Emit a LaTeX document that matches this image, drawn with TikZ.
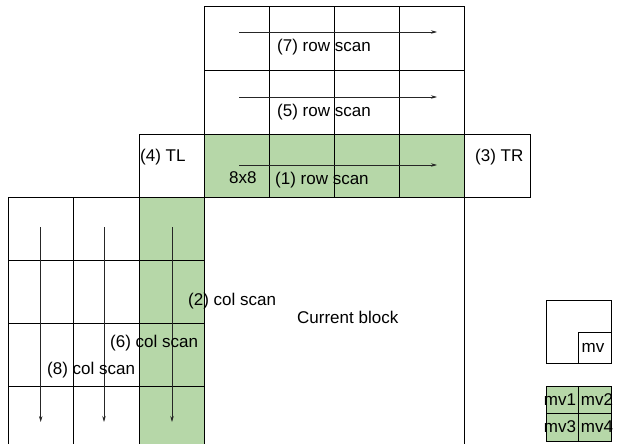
\documentclass[tikz,border=0pt]{standalone}
\usepackage{fontspec}
\setmainfont{Liberation Sans}
\usepackage{xcolor}
\usetikzlibrary{arrows.meta, positioning}
\definecolor{cellgreen}{HTML}{B6D7A8}

\begin{document}
\begin{tikzpicture}[x=1pt, y=-1pt,
  grid/.style={draw=black, line width=1pt},
  scanarr/.style={-{Stealth[length=6pt,width=3.5pt]}, line width=0.7pt, black!85},
  lbl/.style={font=\fontsize{17}{20}\selectfont, inner sep=0pt, anchor=west},
  mvlbl/.style={font=\fontsize{17}{20}\selectfont, inner sep=0pt}
]
\useasboundingbox (0,0) rectangle (619,444);
\begin{scope}
\clip (0,0) rectangle (619,444);
%% ROWS above the current block
\fill[cellgreen] (204,134) rectangle (464,197);
\draw[grid] (204,7) rectangle (464,197);
\draw[grid] (204,71) -- (464,71);
\draw[grid] (204,134) -- (464,134);
\draw[grid] (269,7) -- (269,197);
\draw[grid] (334,7) -- (334,197);
\draw[grid] (399,7) -- (399,197);
\draw[grid] (139,134) rectangle (204,197);
\draw[grid] (464,134) rectangle (530,197);
%% COLUMNS left of the current block
\fill[cellgreen] (139,197) rectangle (204,449);
\draw[grid] (8,197) rectangle (204,449);
\draw[grid] (8,260) -- (204,260);
\draw[grid] (8,323) -- (204,323);
\draw[grid] (8,386) -- (204,386);
\draw[grid] (73.5,197) -- (73.5,449);
\draw[grid] (139,197) -- (139,449);
%% current block
\draw[grid] (204,197) rectangle (464,449);
%% motion vectors
\draw[grid] (546,300) rectangle (611,363);
\draw[grid] (578,332) rectangle (611,363);
\fill[cellgreen] (546,386) rectangle (611,441);
\draw[grid] (546,386) rectangle (611,441);
\draw[grid] (578,386) -- (578,441);
\draw[grid] (546,413) -- (611,413);
\end{scope}

% scan directions
\coordinate (r7s) at (239,32);  \coordinate (r7e) at (437,32);
\coordinate (r5s) at (239,97);  \coordinate (r5e) at (437,97);
\coordinate (r1s) at (239,165); \coordinate (r1e) at (437,165);
\coordinate (c8s) at (40.7,227); \coordinate (c8e) at (40.7,422);
\coordinate (c6s) at (104,227);  \coordinate (c6e) at (104,422);
\coordinate (c2s) at (172,227);  \coordinate (c2e) at (172,422);
\draw[scanarr] (r7s) -- (r7e);
\draw[scanarr] (r5s) -- (r5e);
\draw[scanarr] (r1s) -- (r1e);
\draw[scanarr] (c8s) -- (c8e);
\draw[scanarr] (c6s) -- (c6e);
\draw[scanarr] (c2s) -- (c2e);

% labels
\node[lbl] (row7) at (277,47)  {(7) row scan};
\node[lbl] (row5) at (277,112) {(5) row scan};
\node[lbl] (row1) at (275,180) {(1) row scan};
\node[lbl] (size) at (229,178) {8x8};
\node[lbl] (tl)   at (140,157) {(4) TL};
\node[lbl] (tr)   at (475,157) {(3) TR};
\node[lbl] (col2) at (188,301) {(2) col scan};
\node[lbl] (col6) at (110,343) {(6) col scan};
\node[lbl] (col8) at (47,370)  {(8) col scan};
\node[lbl] (cur)  at (297,317) {Current block};
\node[mvlbl] (mv)  at (593,348)   {mv};
\node[mvlbl] (mv1) at (560,399.5) {mv1};
\node[mvlbl] (mv2) at (597,399.5) {mv2};
\node[mvlbl] (mv3) at (560,427)   {mv3};
\node[mvlbl] (mv4) at (597,427)   {mv4};
\end{tikzpicture}
\end{document}
